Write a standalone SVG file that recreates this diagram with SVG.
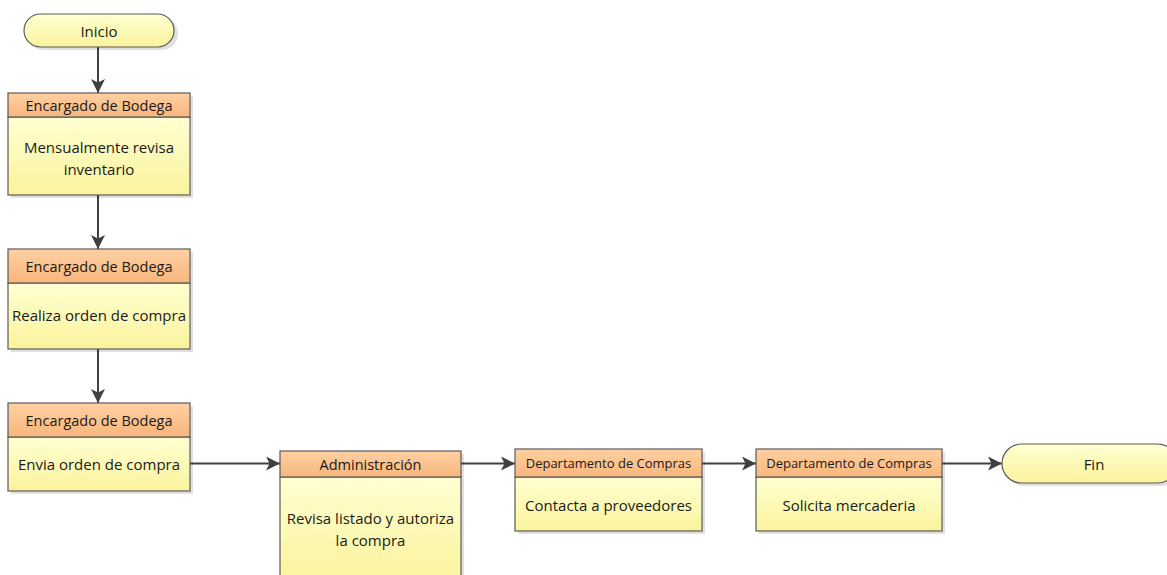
<svg xmlns="http://www.w3.org/2000/svg" width="1167" height="575" viewBox="0 0 1167 575">
<defs>
<linearGradient id="hdr" x1="0" y1="0" x2="0" y2="1"><stop offset="0" stop-color="#FFD0A2"/><stop offset="1" stop-color="#F8B67C"/></linearGradient>
<linearGradient id="bdy" x1="0" y1="0" x2="0" y2="1"><stop offset="0" stop-color="#FFFFD2"/><stop offset="1" stop-color="#FBF39C"/></linearGradient>
<marker id="arr" viewBox="0 0 14 14" refX="14" refY="7" markerWidth="14" markerHeight="14" markerUnits="userSpaceOnUse" orient="auto"><path d="M0,0 L14,7 L0,14 L3.5,7 Z" fill="#404040"/></marker>
<style>
.sh{fill:#000;opacity:0.12}
.hd{fill:url(#hdr);stroke:#5a5a5a;stroke-width:1.2}
.bd{fill:url(#bdy);stroke:#5a5a5a;stroke-width:1.2}
.t{font-family:"Open Sans","Liberation Sans",sans-serif;fill:#1a1a1a;text-anchor:middle;dominant-baseline:central}
.h14{font-size:14.5px}
.h12{font-size:13px}
.b{font-size:15px}
.c{stroke:#404040;stroke-width:2;fill:none;marker-end:url(#arr)}
</style>
</defs>
<rect width="1167" height="575" fill="#fff"/>
<g id="connectors">
<line class="c" x1="98" y1="47" x2="98" y2="93"/>
<line class="c" x1="98" y1="195" x2="98" y2="249"/>
<line class="c" x1="98" y1="349" x2="98" y2="403"/>
<line class="c" x1="190" y1="463.5" x2="280" y2="463.5"/>
<line class="c" x1="461" y1="463.5" x2="515" y2="463.5"/>
<line class="c" x1="702" y1="463.5" x2="756" y2="463.5"/>
<line class="c" x1="942" y1="463.5" x2="1002" y2="463.5"/>
</g>
<g id="inicio">
<rect class="sh" x="27" y="17" width="151" height="33" rx="16.5"/>
<rect class="bd" x="24" y="14" width="150" height="33" rx="16.5"/>
<text class="t b" x="99" y="31">Inicio</text>
</g>
<g id="n1">
<rect class="sh" x="11" y="96" width="182" height="102"/>
<rect class="bd" x="8" y="117" width="182" height="78"/>
<rect class="hd" x="8" y="93" width="182" height="24"/>
<text class="t h14" x="99" y="105">Encargado de Bodega</text>
<text class="t b" x="99" y="147">Mensualmente revisa</text>
<text class="t b" x="99" y="169">inventario</text>
</g>
<g id="n2">
<rect class="sh" x="11" y="252" width="182" height="100"/>
<rect class="bd" x="8" y="283" width="182" height="66"/>
<rect class="hd" x="8" y="249" width="182" height="34"/>
<text class="t h14" x="99" y="266">Encargado de Bodega</text>
<text class="t b" x="99" y="315">Realiza orden de compra</text>
</g>
<g id="n3">
<rect class="sh" x="11" y="406" width="182" height="88"/>
<rect class="bd" x="8" y="437" width="182" height="54"/>
<rect class="hd" x="8" y="403" width="182" height="34"/>
<text class="t h14" x="99" y="420">Encargado de Bodega</text>
<text class="t b" x="99" y="464">Envia orden de compra</text>
</g>
<g id="n4">
<rect class="sh" x="283" y="454" width="181" height="130"/>
<rect class="bd" x="280" y="477" width="181" height="105"/>
<rect class="hd" x="280" y="451" width="181" height="26"/>
<text class="t h14" x="370.5" y="464">Administración</text>
<text class="t b" x="370.5" y="518">Revisa listado y autoriza</text>
<text class="t b" x="370.5" y="540">la compra</text>
</g>
<g id="n5">
<rect class="sh" x="518" y="452" width="187" height="82"/>
<rect class="bd" x="515" y="477" width="187" height="54"/>
<rect class="hd" x="515" y="449" width="187" height="28"/>
<text class="t h12" x="608.5" y="463">Departamento de Compras</text>
<text class="t b" x="608.5" y="505">Contacta a proveedores</text>
</g>
<g id="n6">
<rect class="sh" x="759" y="452" width="186" height="82"/>
<rect class="bd" x="756" y="477" width="186" height="54"/>
<rect class="hd" x="756" y="449" width="186" height="28"/>
<text class="t h12" x="849" y="463">Departamento de Compras</text>
<text class="t b" x="849" y="505">Solicita mercaderia</text>
</g>
<g id="fin">
<rect class="sh" x="1005" y="447" width="175" height="39" rx="19.5"/>
<rect class="bd" x="1002" y="444" width="175" height="39" rx="19.5"/>
<text class="t b" x="1094" y="463.5">Fin</text>
</g>
</svg>
